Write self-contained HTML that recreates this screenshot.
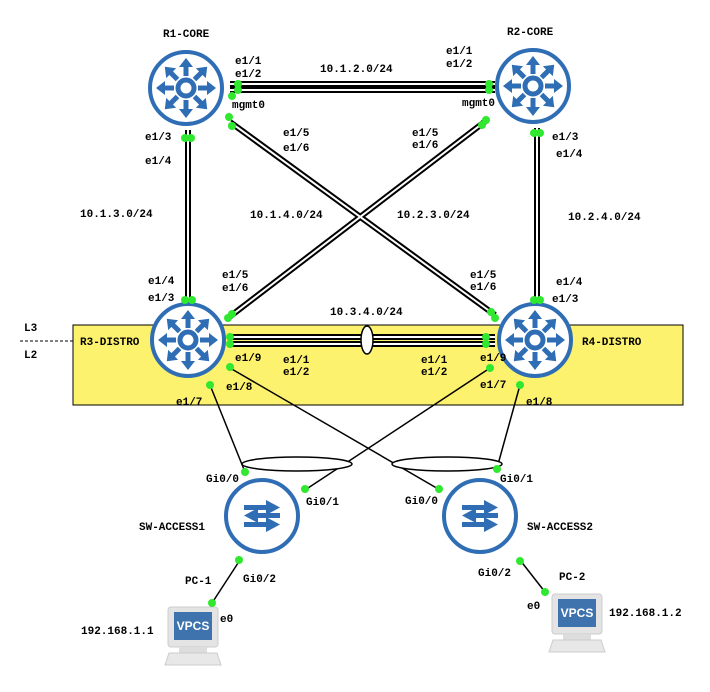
<!DOCTYPE html>
<html><head><style>
body{margin:0;background:#fff}
svg text{font-family:"Liberation Mono",monospace;font-size:11px;font-weight:bold;fill:#000}
</style></head><body>
<svg width="710" height="687" viewBox="0 0 710 687" xmlns="http://www.w3.org/2000/svg">
<defs>
<g id="rt">
<circle r="36" fill="#fff" stroke="#2f6db5" stroke-width="4"/>
<circle r="8" fill="none" stroke="#2f6db5" stroke-width="5"/>
<g stroke="#2f6db5" stroke-width="5" fill="#2f6db5">
<g id="arm"><line x1="0" y1="-12" x2="0" y2="-22"/><polygon points="-7,-21 7,-21 0,-30" stroke="none"/></g>
<use href="#arm" transform="rotate(45)"/><use href="#arm" transform="rotate(90)"/><use href="#arm" transform="rotate(135)"/>
<use href="#arm" transform="rotate(180)"/><use href="#arm" transform="rotate(225)"/><use href="#arm" transform="rotate(270)"/><use href="#arm" transform="rotate(315)"/>
</g></g>
<g id="sw">
<circle r="36" fill="#fff" stroke="#2f6db5" stroke-width="4"/>
<g fill="#2f6db5">
<rect x="-18" y="-11" width="22" height="5"/><polygon points="4,-16 18,-8.5 4,-1"/>
<rect x="-4" y="-3" width="22" height="5"/><polygon points="-4,-8 -18,-0.5 -4,7"/>
<rect x="-18" y="6" width="22" height="5"/><polygon points="4,1 18,8.5 4,16"/>
</g></g>
<g id="pc">
<rect x="-25" y="-22" width="50" height="40" rx="3" fill="#e4e4e4" stroke="#ccc"/>
<rect x="-19" y="-17" width="38" height="28" fill="#3f73ad"/>
<text x="0" y="1" text-anchor="middle" style="font-family:'Liberation Sans',sans-serif;font-size:12px;fill:#fff">VPCS</text>
<rect x="-14" y="18" width="28" height="6" fill="#ddd"/>
<polygon points="-24,24 24,24 28,36 -28,36" fill="#e8e8e8" stroke="#ccc"/>
</g>
</defs>
<rect x="73" y="325" width="610" height="80" fill="#fdf26d" stroke="#000"/>
<line x1="20" y1="341" x2="73" y2="341" stroke="#000" stroke-dasharray="3,2"/>
<g stroke="#000" stroke-width="6" fill="none">
<line x1="230" y1="84" x2="495" y2="84"/><line x1="230" y1="90" x2="495" y2="90"/>
<line x1="188" y1="130" x2="188" y2="305"/>
<line x1="537" y1="128" x2="537" y2="305"/>
<line x1="230" y1="122" x2="495" y2="315"/>
<line x1="487" y1="120" x2="228" y2="318"/>
<line x1="228" y1="337" x2="495" y2="337"/><line x1="228" y1="344" x2="495" y2="344"/>
</g>
<g stroke="#fff" stroke-width="2" fill="none">
<line x1="230" y1="84" x2="495" y2="84"/><line x1="230" y1="90" x2="495" y2="90"/>
<line x1="188" y1="130" x2="188" y2="305"/>
<line x1="537" y1="128" x2="537" y2="305"/>
<line x1="230" y1="122" x2="495" y2="315"/>
<line x1="487" y1="120" x2="228" y2="318"/>
<line x1="228" y1="337" x2="495" y2="337"/><line x1="228" y1="344" x2="495" y2="344"/>
</g>
<ellipse cx="367" cy="340" rx="6" ry="14" fill="#fff" stroke="#000" stroke-width="1.5"/>
<g stroke="#000" stroke-width="1.5" fill="none">
<line x1="210" y1="385" x2="245" y2="472"/>
<line x1="230" y1="368" x2="440" y2="490"/>
<line x1="490" y1="368" x2="305" y2="490"/>
<line x1="520" y1="385" x2="497" y2="468"/>
<line x1="240" y1="560" x2="212" y2="603"/>
<line x1="520" y1="560" x2="545" y2="592"/>
<ellipse cx="297" cy="464" rx="55" ry="7" fill="#fff"/>
<ellipse cx="447" cy="464" rx="55" ry="7" fill="#fff"/>
</g>
<use href="#rt" x="186" y="88"/><use href="#rt" x="533" y="86"/>
<use href="#rt" x="188" y="340"/><use href="#rt" x="535" y="340"/>
<use href="#sw" x="262" y="516"/><use href="#sw" x="480" y="516"/>
<use href="#pc" x="193" y="629"/><use href="#pc" x="577" y="616"/>
<g fill="#2fe82f">
<circle cx="238" cy="84" r="4"/><circle cx="238" cy="90" r="4"/><circle cx="232" cy="96" r="4"/>
<circle cx="489" cy="84" r="4"/><circle cx="489" cy="90" r="4"/><circle cx="486" cy="120" r="4"/><circle cx="482" cy="125" r="4"/>
<circle cx="229" cy="117" r="4"/><circle cx="232" cy="126" r="4"/>
<circle cx="185" cy="138" r="4"/><circle cx="191" cy="138" r="4"/>
<circle cx="534" cy="133" r="4"/><circle cx="540" cy="133" r="4"/>
<circle cx="185" cy="300" r="4"/><circle cx="192" cy="300" r="4"/>
<circle cx="534" cy="300" r="4"/><circle cx="540" cy="300" r="4"/>
<circle cx="228" cy="318" r="4"/><circle cx="232" cy="314" r="4"/>
<circle cx="491" cy="312" r="4"/><circle cx="495" cy="318" r="4"/>
<circle cx="230" cy="337" r="4"/><circle cx="230" cy="344" r="4"/><circle cx="230" cy="367" r="4"/>
<circle cx="486" cy="337" r="4"/><circle cx="486" cy="344" r="4"/><circle cx="490" cy="368" r="4"/>
<circle cx="210" cy="385" r="4"/><circle cx="520" cy="385" r="4"/>
<circle cx="245" cy="472" r="4"/><circle cx="305" cy="489" r="4"/><circle cx="439" cy="489" r="4"/><circle cx="497" cy="469" r="4"/>
<circle cx="239" cy="560" r="4"/><circle cx="212" cy="603" r="4"/>
<circle cx="520" cy="561" r="4"/><circle cx="545" cy="592" r="4"/>
</g>
<text x="163" y="37">R1-CORE</text><text x="507" y="35">R2-CORE</text>
<text x="80" y="345">R3-DISTRO</text><text x="582" y="345">R4-DISTRO</text>
<text x="139" y="530">SW-ACCESS1</text><text x="527" y="530">SW-ACCESS2</text>
<text x="185" y="584">PC-1</text><text x="559" y="580">PC-2</text>
<text x="81" y="634">192.168.1.1</text><text x="609" y="616">192.168.1.2</text>
<text x="235" y="64">e1/1</text><text x="235" y="77">e1/2</text><text x="232" y="108">mgmt0</text>
<text x="446" y="54">e1/1</text><text x="446" y="67">e1/2</text><text x="462" y="106">mgmt0</text>
<text x="320" y="72">10.1.2.0/24</text>
<text x="145" y="140">e1/3</text><text x="145" y="164">e1/4</text>
<text x="552" y="140">e1/3</text><text x="556" y="157">e1/4</text>
<text x="283" y="136">e1/5</text><text x="283" y="151">e1/6</text>
<text x="412" y="136">e1/5</text><text x="412" y="148">e1/6</text>
<text x="80" y="217">10.1.3.0/24</text><text x="250" y="218">10.1.4.0/24</text>
<text x="397" y="218">10.2.3.0/24</text><text x="568" y="220">10.2.4.0/24</text>
<text x="148" y="284">e1/4</text><text x="148" y="301">e1/3</text>
<text x="222" y="278">e1/5</text><text x="222" y="291">e1/6</text>
<text x="470" y="278">e1/5</text><text x="470" y="290">e1/6</text>
<text x="556" y="285">e1/4</text><text x="552" y="302">e1/3</text>
<text x="330" y="315">10.3.4.0/24</text>
<text x="24" y="331">L3</text><text x="24" y="358">L2</text>
<text x="235" y="361">e1/9</text><text x="283" y="363">e1/1</text><text x="283" y="375">e1/2</text>
<text x="421" y="363">e1/1</text><text x="421" y="375">e1/2</text><text x="480" y="361">e1/9</text>
<text x="226" y="390">e1/8</text><text x="176" y="405">e1/7</text>
<text x="480" y="388">e1/7</text><text x="526" y="405">e1/8</text>
<text x="206" y="482">Gi0/0</text><text x="306" y="505">Gi0/1</text>
<text x="405" y="504">Gi0/0</text><text x="500" y="482">Gi0/1</text>
<text x="243" y="582">Gi0/2</text><text x="478" y="576">Gi0/2</text>
<text x="220" y="622">e0</text><text x="527" y="609">e0</text>
</svg>
</body></html>
